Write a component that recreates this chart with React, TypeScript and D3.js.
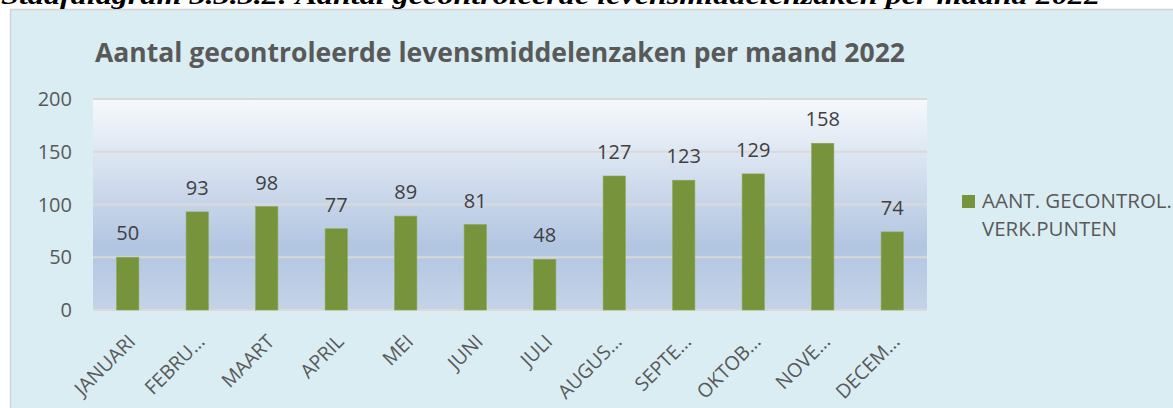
import React from "react";
import * as d3 from "d3";

const months = ["JANUARI", "FEBRU…", "MAART", "APRIL", "MEI", "JUNI", "JULI", "AUGUS…", "SEPTE…", "OKTOB…", "NOVE…", "DECEM…"];
const values = [50, 93, 98, 77, 89, 81, 48, 127, 123, 129, 158, 74];
const yTicks = [0, 50, 100, 150, 200];
const seriesName = ["AANT. GECONTROL.", "VERK.PUNTEN"];
const chartTitle = "Aantal gecontroleerde levensmiddelenzaken per maand 2022";
const captionText = "Staafdiagram 3.3.3.2: Aantal gecontroleerde levensmiddelenzaken per maand 2022";

const W = 1173, H = 408;
const plot = { left: 93, right: 927, top: 99, bottom: 310 };
const font = "'Open Sans', sans-serif";

export default function App() {
  const x = d3.scaleBand<string>().domain(months).range([plot.left, plot.right]).paddingInner(0.68).paddingOuter(0.34);
  const y = d3.scaleLinear().domain([0, 200]).range([plot.bottom, plot.top]);
  return (
    <svg width={W} height={H} style={{ position: "absolute", left: 0, top: 0, display: "block" }}>
      <defs>
        <linearGradient id="pg" x1="0" y1="0" x2="0" y2="1">
          <stop offset="0%" stopColor="#f6f9fc" />
          <stop offset="70%" stopColor="#b2c5e1" />
          <stop offset="100%" stopColor="#c4d3e8" />
        </linearGradient>
      </defs>
      <rect x={0} y={0} width={W} height={H} fill="#ffffff" />
      <rect x={10.5} y={9.5} width={W} height={H} fill="#daedf3" stroke="#d4d4d4" strokeWidth={1.5} />
      <text x={1} y={3.5} fontFamily="'Liberation Serif', serif" fontWeight="bold" fontStyle="italic" fontSize={25} textLength={1099} lengthAdjust="spacingAndGlyphs" fill="#000">{captionText}</text>
      <text x={95} y={62} fontFamily={font} fontWeight="bold" fontSize={26.5} textLength={810} lengthAdjust="spacingAndGlyphs" fill="#595959">{chartTitle}</text>
      <rect x={plot.left} y={plot.top} width={plot.right - plot.left} height={plot.bottom - plot.top} fill="url(#pg)" />
      {yTicks.map((t) => (
        <g key={t}>
          <line x1={plot.left} x2={plot.right} y1={y(t)} y2={y(t)} stroke="#d9d9d9" strokeWidth={2} />
          <text x={72} y={y(t)} dy="0.35em" textAnchor="end" fontFamily={font} fontSize={20} fill="#595959">{t}</text>
        </g>
      ))}
      {months.map((m, i) => {
        const bx = x(m)!;
        const v = values[i];
        const cx = bx + x.bandwidth() / 2;
        return (
          <g key={m}>
            <rect x={bx} y={y(v)} width={x.bandwidth()} height={y(0) - y(v)} fill="#77933c" stroke="#8aa64f" strokeWidth={0.6} />
            <text x={cx} y={y(v) - 17} textAnchor="middle" fontFamily={font} fontSize={20} fill="#404040">{v}</text>
            <text transform={`translate(${cx + 4},${plot.bottom + 28}) rotate(-45)`} textAnchor="end" dy="0.35em" fontFamily={font} fontSize={19.5} fill="#595959">{m}</text>
          </g>
        );
      })}
      <rect x={962} y={195} width={13} height={13} fill="#77933c" />
      <text x={982} y={208} fontFamily={font} fontSize={20.5} fill="#595959">{seriesName[0]}</text>
      <text x={982} y={236} fontFamily={font} fontSize={20.5} fill="#595959">{seriesName[1]}</text>
    </svg>
  );
}
